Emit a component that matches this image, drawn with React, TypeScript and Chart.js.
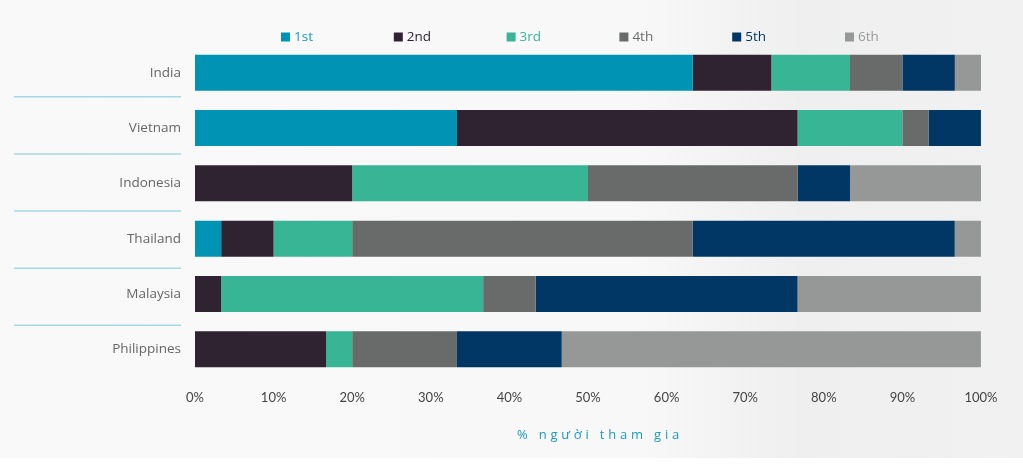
import React, { useEffect, useRef } from "react";
import { Chart, registerables } from "chart.js";

Chart.register(...registerables);

const countries = ["India", "Vietnam", "Indonesia", "Thailand", "Malaysia", "Philippines"];
const seriesNames = ["1st", "2nd", "3rd", "4th", "5th", "6th"];
const first = [63.33, 33.33, 0, 3.33, 0, 0];
const second = [10, 43.33, 20, 6.67, 3.33, 16.67];
const third = [10, 13.33, 30, 10, 33.33, 3.33];
const fourth = [6.67, 3.33, 26.67, 43.33, 6.67, 13.33];
const fifth = [6.67, 6.67, 6.67, 33.33, 33.33, 13.33];
const sixth = [3.33, 0, 16.67, 3.33, 23.33, 53.33];
const xTicks = [0, 10, 20, 30, 40, 50, 60, 70, 80, 90, 100];
const axisTitle = "% người tham gia";

const colors = ["#0093B3", "#2F2331", "#38B594", "#696B6A", "#003764", "#969797"];
const legendTextColors = ["#1C9BBE", "#2F2331", "#38B594", "#696B6A", "#003764", "#9A9A9A"];

const decorPlugin = {
  id: "decor",
  afterDraw(chart: any) {
    const ctx = chart.ctx;
    const ca = chart.chartArea;
    const y = chart.scales.y;
    ctx.save();
    // separator lines in the category label column
    ctx.strokeStyle = "#A6D7E3";
    ctx.lineWidth = 1.5;
    for (let i = 0; i < countries.length - 1; i++) {
      const mid = (y.getPixelForValue(i) + y.getPixelForValue(i + 1)) / 2;
      const py = mid - 3.5 + 1.8 * i;
      ctx.beginPath();
      ctx.moveTo(14, py);
      ctx.lineTo(181, py);
      ctx.stroke();
    }
    // legend
    ctx.font = "500 13.5px 'Open Sans'";
    ctx.textBaseline = "middle";
    const startX = 281;
    const step = 112.8;
    const ly = 37;
    seriesNames.forEach((n, i) => {
      const x = startX + i * step;
      ctx.fillStyle = colors[i];
      ctx.fillRect(x, ly - 4.5, 9, 9);
      ctx.fillStyle = legendTextColors[i];
      ctx.textAlign = "left";
      ctx.fillText(n, x + 13, ly);
    });
    // axis title
    ctx.font = "13px 'Open Sans'";
    ctx.fillStyle = "#1C9BBE";
    ctx.textAlign = "center";
    (ctx as any).letterSpacing = "3.8px";
    ctx.fillText(axisTitle, (ca.left + ca.right) / 2 + 12, 435);
    ctx.restore();
  },
};

export default function App() {
  const ref = useRef<HTMLCanvasElement>(null);
  useEffect(() => {
    const data = [first, second, third, fourth, fifth, sixth];
    const chart = new Chart(ref.current!, {
      type: "bar",
      data: {
        labels: countries,
        datasets: seriesNames.map((n, i) => ({
          label: n,
          data: data[i],
          backgroundColor: colors[i],
          borderWidth: 0,
          barPercentage: 0.65,
          categoryPercentage: 1,
        })),
      },
      options: {
        indexAxis: "y",
        responsive: false,
        animation: false,
        layout: { padding: { top: 45, right: 42, left: 0, bottom: 0 } },
        plugins: { legend: { display: false }, tooltip: { enabled: false }, title: { display: false } },
        scales: {
          x: {
            stacked: true,
            min: 0,
            max: 100,
            afterBuildTicks: (s: any) => {
              s.ticks = xTicks.map((v) => ({ value: v }));
            },
            afterFit: (s: any) => {
              s.height = 92;
            },
            grid: { display: false, drawTicks: false },
            border: { display: false },
            ticks: {
              padding: 13,
              color: "#444",
              font: { family: "Lato", size: 13 },
              callback: (v: any) => v + "%",
            },
          },
          y: {
            stacked: true,
            afterFit: (s: any) => {
              s.width = 195;
            },
            grid: { display: false, drawTicks: false },
            border: { display: false },
            ticks: {
              padding: 14,
              color: "#666",
              font: { family: "'Open Sans'", size: 13.5 },
            },
          },
        },
      },
      plugins: [decorPlugin],
    });
    return () => chart.destroy();
  }, []);
  return (
    <div
      style={{
        position: "fixed",
        left: 0,
        top: 0,
        width: 1023,
        height: 469,
        background: "linear-gradient(to right, #F9F9F9 0%, #F8F8F8 62%, #EFEFEF 78%, #F1F1F1 100%)",
      }}
    >
      <div style={{ position: "absolute", left: 0, right: 0, bottom: 0, height: 11, background: "#FFFFFF" }} />
      <canvas ref={ref} width={1023} height={469} style={{ position: "absolute", left: 0, top: 0 }} />
    </div>
  );
}
